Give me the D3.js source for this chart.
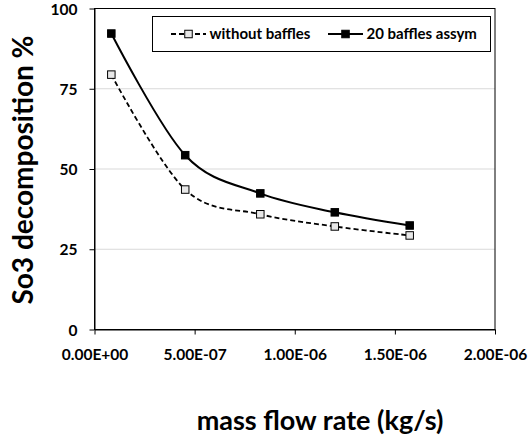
<!DOCTYPE html>
<html>
<head>
<meta charset="utf-8">
<script src="https://cdn.jsdelivr.net/npm/d3@7"></script>
<style>
  body { margin: 0; background: #fff; }
  svg { font-family: Lato, "DejaVu Sans", sans-serif; font-weight: bold; }
</style>
</head>
<body>
<svg id="chart" width="530" height="437"></svg>
<script>
// values
var massFlow = [8.4e-8, 4.53e-7, 8.28e-7, 1.2e-6, 1.574e-6];
var withoutBaffles = [79.4, 43.6, 35.9, 32.1, 29.3];
var baffles20 = [92.2, 54.3, 42.4, 36.5, 32.4];
var seriesNames = ["without baffles", "20 baffles assym"];
var xTicks = [0, 5e-7, 1e-6, 1.5e-6, 2e-6];
var yTicks = [0, 25, 50, 75, 100];

var svg = d3.select("#chart");
var margin = {top: 8.5, right: 35, bottom: 107.5, left: 94.5};
var width = 530 - margin.left - margin.right;
var height = 437 - margin.top - margin.bottom;

var g = svg.append("g")
	.attr("transform", "translate(" + margin.left + "," + margin.top + ")");

var xScale = d3.scaleLinear().domain([0, 2e-6]).range([0, width]);
var yScale = d3.scaleLinear().domain([0, 100]).range([height, 0]);

// excel style scientific labels, e.g. 5.00E-07
function sci(v) {
	var s = v.toExponential(2).split("e");
	var exp = parseInt(s[1], 10);
	var sign = exp < 0 ? "-" : "+";
	var e = Math.abs(exp);
	return s[0] + "E" + sign + (e < 10 ? "0" + e : e);
}

// gridlines
g.selectAll("line.grid")
	.data(yTicks.filter(function(d){ return d > 0 && d < 100; }))
	.enter().append("line")
	.attr("class", "grid")
	.attr("x1", 0).attr("x2", width)
	.attr("y1", function(d){ return yScale(d); })
	.attr("y2", function(d){ return yScale(d); })
	.attr("stroke", "#d9d9d9")
	.attr("stroke-width", 1);

// plot border
g.append("rect")
	.attr("x", 0).attr("y", 0)
	.attr("width", width).attr("height", height)
	.attr("fill", "none")
	.attr("stroke", "#000")
	.attr("stroke-width", 1);

var xAxis = g.append("g")
	.attr("transform", "translate(0," + height + ")")
	.call(d3.axisBottom(xScale).tickValues(xTicks).tickFormat(sci).tickSize(5).tickSizeOuter(0));
xAxis.select(".domain").attr("stroke", "#000");
xAxis.selectAll("text")
	.attr("dy", null).attr("y", 30)
	.style("font-size", "15.5px").style("font-family", "Lato").style("font-weight", "bold")
	.attr("fill", "#000");

var yAxis = g.append("g")
	.call(d3.axisLeft(yScale).tickValues(yTicks).tickSize(5).tickSizeOuter(0));
yAxis.select(".domain").attr("stroke", "#000");
yAxis.selectAll("text")
	.attr("x", -17).attr("dy", "0.36em")
	.style("font-size", "15.5px").style("font-family", "Lato").style("font-weight", "bold")
	.attr("fill", "#000");

var line = d3.line()
	.x(function(d){ return xScale(d[0]); })
	.y(function(d){ return yScale(d[1]); })
	.curve(d3.curveCatmullRom.alpha(0));

var dataA = massFlow.map(function(x, i){ return [x, withoutBaffles[i]]; });
var dataB = massFlow.map(function(x, i){ return [x, baffles20[i]]; });

g.append("path")
	.attr("d", line(dataA))
	.attr("fill", "none").attr("stroke", "#000")
	.attr("stroke-width", 1.8).attr("stroke-dasharray", "5,3");

g.append("path")
	.attr("d", line(dataB))
	.attr("fill", "none").attr("stroke", "#000")
	.attr("stroke-width", 2);

var ms = 7.5;
g.selectAll("rect.mA")
	.data(dataA)
	.enter().append("rect")
	.attr("class", "mA")
	.attr("x", function(d){ return xScale(d[0]) - ms / 2; })
	.attr("y", function(d){ return yScale(d[1]) - ms / 2; })
	.attr("width", ms).attr("height", ms)
	.attr("fill", "#e8e8e8").attr("stroke", "#000").attr("stroke-width", 1);

g.selectAll("rect.mB")
	.data(dataB)
	.enter().append("rect")
	.attr("class", "mB")
	.attr("x", function(d){ return xScale(d[0]) - ms / 2; })
	.attr("y", function(d){ return yScale(d[1]) - ms / 2; })
	.attr("width", ms).attr("height", ms)
	.attr("fill", "#000").attr("stroke", "#000").attr("stroke-width", 1);

// legend
var lg = svg.append("g");
lg.append("rect")
	.attr("x", 152.5).attr("y", 16.5).attr("width", 338).attr("height", 35)
	.attr("fill", "#fff").attr("stroke", "#000").attr("stroke-width", 1);

var legendItems = [
	{name: seriesNames[0], x0: 171, x1: 206, dash: "5,3", fill: "#e8e8e8", sw: 1.8},
	{name: seriesNames[1], x0: 328, x1: 363, dash: null, fill: "#000", sw: 2}
];
var li = lg.selectAll("g.item").data(legendItems).enter().append("g").attr("class", "item");
li.append("line")
	.attr("x1", function(d){ return d.x0; }).attr("x2", function(d){ return d.x1; })
	.attr("y1", 34).attr("y2", 34)
	.attr("stroke", "#000").attr("stroke-width", function(d){ return d.sw; })
	.attr("stroke-dasharray", function(d){ return d.dash; });
li.append("rect")
	.attr("x", function(d){ return (d.x0 + d.x1) / 2 - ms / 2; })
	.attr("y", 34 - ms / 2).attr("width", ms).attr("height", ms)
	.attr("fill", function(d){ return d.fill; }).attr("stroke", "#000");
li.append("text")
	.attr("x", function(d){ return d.x1 + 3.5; })
	.attr("y", 34).attr("dy", "0.36em")
	.style("font-size", "15px")
	.text(function(d){ return d.name; });

// axis titles
svg.append("text")
	.attr("x", 320).attr("y", 430)
	.attr("text-anchor", "middle")
	.style("font-size", "27px")
	.text("mass flow rate (kg/s)");

svg.append("text")
	.attr("transform", "translate(33,170) rotate(-90)")
	.attr("text-anchor", "middle")
	.style("font-size", "28px")
	.text("So3 decomposition %");
</script>
</body>
</html>
